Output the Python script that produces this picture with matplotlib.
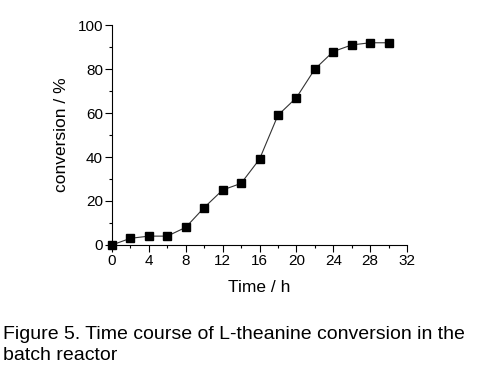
import matplotlib
matplotlib.use('Agg')
import matplotlib.pyplot as plt
from matplotlib.ticker import MultipleLocator

plt.rcParams['font.family'] = ['Liberation Sans', 'DejaVu Sans']

# --- Data ---
time_h = [0, 2, 4, 6, 8, 10, 12, 14, 16, 18, 20, 22, 24, 26, 28, 30]
conversion = [0, 3, 4, 4, 8, 17, 25, 28, 39, 59, 67, 80, 88, 91, 92, 92]
x_ticks = [0, 4, 8, 12, 16, 20, 24, 28, 32]
y_ticks = [0, 20, 40, 60, 80, 100]

fig = plt.figure(figsize=(5, 3.65), dpi=100)
ax = fig.add_axes([0.224, 0.329, 0.59, 0.602])

ax.plot(time_h, conversion, color='#333333', lw=0.8,
        marker='s', ms=5.8, mfc='black', mec='black', clip_on=False, zorder=3)

ax.set_xlim(0, 32)
ax.set_ylim(0, 100)
ax.set_xticks(x_ticks)
ax.set_yticks(y_ticks)
ax.xaxis.set_minor_locator(MultipleLocator(2))
ax.yaxis.set_minor_locator(MultipleLocator(10))
ax.tick_params(which='major', direction='out', length=5, width=0.8, labelsize=11, pad=1.5)
ax.tick_params(which='minor', direction='out', length=2.5, width=0.8)
ax.spines[['top', 'right']].set_visible(False)

ax.set_xlabel('Time / h', fontsize=12.5, labelpad=9)
ax.set_ylabel('conversion / %', fontsize=12.5, labelpad=6)

# Popisek obrázku pod grafem
fig.text(0.006, 0.0712, 'Figure 5. Time course of L-theanine conversion in the',
         fontsize=14, ha='left', va='baseline')
fig.text(0.006, 0.0137, 'batch reactor', fontsize=14, ha='left', va='baseline')

fig.savefig('out.png', dpi=100)
plt.close()
